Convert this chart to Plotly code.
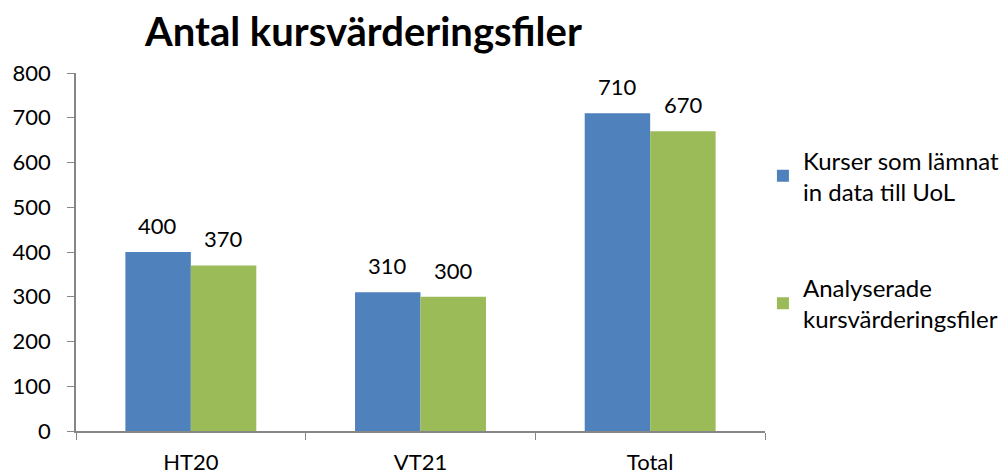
import plotly.graph_objects as go

categories = ["HT20", "VT21", "Total"]
series_names = ["Kurser som lämnat<br>in data till UoL", "Analyserade<br>kursvärderingsfiler"]
blue_values = [400, 310, 710]
green_values = [370, 300, 670]
colors = ["#4F81BD", "#9BBB59"]
y_ticks = [0, 100, 200, 300, 400, 500, 600, 700, 800]

FONT = "Lato, 'Open Sans', sans-serif"

fig = go.Figure()
for i, (name, vals) in enumerate(zip(series_names, [blue_values, green_values])):
    fig.add_trace(go.Bar(
        x=categories, y=vals, name=name,
        marker=dict(color=colors[i], line=dict(width=0)),
        legendgroup=f"g{i}",
    ))

# data labels
offset = 33
for i, vals in enumerate([blue_values, green_values]):
    for c, v in zip(categories, vals):
        fig.add_annotation(
            x=c, y=v, xref="x", yref="y", text=str(v), showarrow=False,
            xshift=-offset if i == 0 else offset, yshift=11, yanchor="bottom",
            font=dict(family=FONT, size=22, color="#000000"),
        )

fig.update_layout(
    width=1008, height=475,
    paper_bgcolor="white", plot_bgcolor="white",
    margin=dict(l=68, r=251, t=65, b=52, autoexpand=False),
    barmode="group", bargap=0.43, bargroupgap=0,
    title=dict(text="<b>Antal kursvärderingsfiler</b>", x=137/1008, xref="container",
               xanchor="left", y=1 - 24/475, yanchor="middle",
               font=dict(family=FONT, size=40, color="#000000")),
    font=dict(family=FONT, size=22, color="#000000"),
    legend=dict(x=0.997, xanchor="left", y=0.818, yanchor="top",
                xref="paper", yref="paper",
                font=dict(family=FONT, size=24, color="#000000"),
                tracegroupgap=62, bgcolor="rgba(0,0,0,0)", itemwidth=30),
    showlegend=True,
)
fig.update_xaxes(
    showline=True, linecolor="#868686", linewidth=1.5,
    ticks="outside", tickson="boundaries", ticklen=7, tickcolor="#868686",
    tickfont=dict(family=FONT, size=22, color="#000000"),
    ticklabelstandoff=11, showgrid=False, automargin=False,
)
fig.update_yaxes(
    range=[0, 800], tickvals=y_ticks, showline=True, linecolor="#868686", linewidth=1.5,
    ticks="outside", ticklen=7, tickcolor="#868686", showgrid=False, zeroline=False,
    tickfont=dict(family=FONT, size=22, color="#000000"),
    ticklabelstandoff=12, automargin=False,
)

fig.write_html("out.html")
